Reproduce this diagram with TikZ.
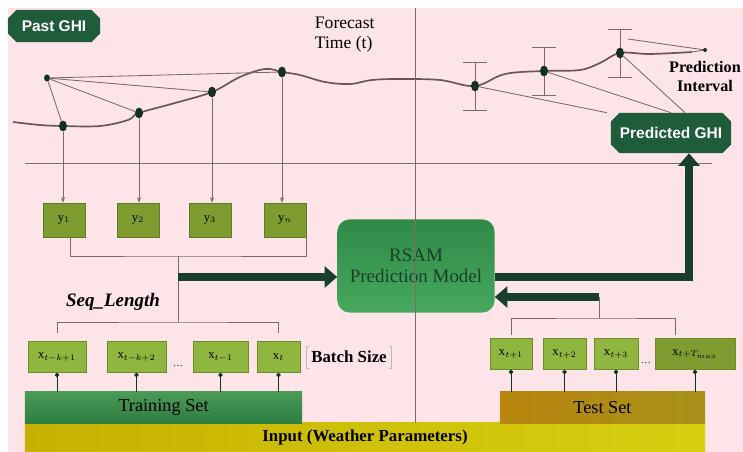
\documentclass[tikz,border=0pt]{standalone}
\usepackage{fontspec}
\setmainfont{Liberation Serif}
\newfontfamily\tagfont{Liberation Sans}
\usepackage{tikz}
\usetikzlibrary{shapes,arrows,arrows.meta,positioning}

\definecolor{bgpink}{HTML}{FCE4E8}
\definecolor{wiregray}{HTML}{7A6A6C}
\definecolor{curvegray}{HTML}{6A5658}
\definecolor{dotgreen}{HTML}{14301F}
\definecolor{ghigreen}{HTML}{1F5C3A}
\definecolor{arrowgreen}{HTML}{173F2B}
\definecolor{yfill}{HTML}{7E9C2F}
\definecolor{yedge}{HTML}{5E7A20}
\definecolor{xfill}{HTML}{8FB63E}
\definecolor{xedge}{HTML}{6C8C28}
\definecolor{modeltop}{HTML}{2F8A48}
\definecolor{modelbot}{HTML}{48A85E}
\definecolor{modeltext}{HTML}{17402A}
\definecolor{traintop}{HTML}{4A9A58}
\definecolor{trainbot}{HTML}{2F7E42}
\definecolor{testleft}{HTML}{B8860E}
\definecolor{testright}{HTML}{A8901A}
\definecolor{inputleft}{HTML}{C8B000}
\definecolor{inputright}{HTML}{D6D010}

\pgfdeclarelayer{dots}
\pgfsetlayers{main,dots}

\begin{document}
\begin{tikzpicture}[x=0.025cm, y=-0.025cm, >={Stealth[length=4pt,width=3pt]}]
      \tikzstyle{wire} = [draw=wiregray, semithick]
      \tikzstyle{curve} = [draw=curvegray, line width=1.2pt]
      \tikzstyle{dot} = [ellipse, fill=dotgreen, inner sep=0pt, minimum width=0.2cm, minimum height=0.27cm]
      \tikzstyle{ghi} = [chamfered rectangle, chamfered rectangle xsep=3pt, chamfered rectangle ysep=3pt, fill=ghigreen, text=white, font=\tagfont\bfseries\fontsize{11}{13}\selectfont]
      \tikzstyle{ybox} = [rectangle, draw=yedge, fill=yfill, minimum width=1.05cm, minimum height=0.85cm, font=\small]
      \tikzstyle{xbox} = [rectangle, draw=xedge, fill=xfill, minimum height=0.78cm, font=\small]
      \tikzstyle{bar} = [rectangle, minimum height=0.775cm, inner sep=0pt, font=\fontsize{13}{15}\selectfont]
      \tikzstyle{bigarrow} = [draw=arrowgreen, line width=5.5pt, -{Triangle[length=9pt,width=15pt]}]
      \tikzstyle{feed} = [wire, draw=dotgreen, -{Circle[length=3pt]}]

      % background
      \fill [bgpink] (8,8) rectangle (743,452);
      \useasboundingbox (0,0) rectangle (743,452);

      % past and forecast GHI curve
      \draw [curve] plot [smooth, tension=0.6] coordinates {(13,122) (40,125) (63,126) (100,126)
        (128,120) (139,113) (175,103) (212,92) (240,77) (265,69) (282,72) (300,75) (325,82)
        (350,84) (372,80) (400,79) (440,80) (475,86) (505,74) (544,71) (580,70) (600,63)
        (620,53) (650,54) (692,52)};
      \coordinate (cend) at (692,52);

      % axes
      \coordinate (divtop) at (415,8);
      \coordinate (hleft) at (25,163);
      \coordinate (hright) at (712,163);
      \draw [wire] (hleft) -- (hright);

      \begin{pgfonlayer}{dots}
        \node (src) [dot, minimum width=0.15cm, minimum height=0.18cm] at (47,78) {};
        \node (p1) [dot] at (63,126) {};
        \node (p2) [dot] at (139,113) {};
        \node (p3) [dot] at (212,92) {};
        \node (p4) [dot] at (282,72) {};
        \node (p5) [dot] at (475,86) {};
        \node (p6) [dot] at (544,71) {};
        \node (p7) [dot] at (620,53) {};
        \node (pint) [dot, minimum width=0.1cm, minimum height=0.1cm] at (705,50) {};
      \end{pgfonlayer}

      \node (pastghi) [ghi, minimum width=2.3cm, minimum height=0.8cm] at (54,26) {Past GHI};
      \node (predghi) [ghi, minimum width=2.95cm, minimum height=1.0cm] at (671,133) {Predicted GHI};
      \node (fctime) [anchor=north west, align=left, font=\fontsize{12.5}{14.5}\selectfont] at (310,12) {Forecast\\Time (t)};
      \node (pitext) [below=0.1cm of pint, align=center, font=\bfseries\fontsize{11.5}{13.5}\selectfont] {Prediction\\Interval};

      % error bars
      \foreach \p in {p5,p6,p7}{
        \draw [wire] ([yshift=0.6cm]\p.center) -- ([yshift=-0.6cm]\p.center);
        \draw [wire] ([xshift=-0.3cm,yshift=0.6cm]\p.center) -- ([xshift=0.3cm,yshift=0.6cm]\p.center);
        \draw [wire] ([xshift=-0.3cm,yshift=-0.6cm]\p.center) -- ([xshift=0.3cm,yshift=-0.6cm]\p.center);
      }
      \foreach \p in {p1,p2,p3,p4}
        \draw [wire] (src) -- (\p);
      \draw [wire] ([xshift=-1.6cm]predghi.north) -- (p5);
      \draw [wire] (predghi.north) -- (p6);
      \draw [wire] ([xshift=0.35cm]predghi.north) -- (p7);
      \draw [wire] ([xshift=0.2cm,yshift=0.35cm]p7.center) -- (pint);
      \draw [wire] (cend) -- (pint);

      % target values
      \node (y1) [ybox] at (64,220) {$\mathrm{y}_1$};
      \node (y2) [ybox] at (138,220) {$\mathrm{y}_2$};
      \node (y3) [ybox] at (210,220) {$\mathrm{y}_3$};
      \node (yn) [ybox] at (285,220) {$\mathrm{y}_n$};
      \draw [wire,->] (p1) -- (p1 |- y1.north);
      \draw [wire,->] (p2) -- (p2 |- y2.north);
      \draw [wire,->] (p3) -- (p3 |- y3.north);
      \draw [wire,->] (p4) -- (p4 |- yn.north);

      % model
      \node (rsam) [rectangle, rounded corners=0.3cm, top color=modeltop, bottom color=modelbot,
        text=modeltext, align=center, minimum width=3.925cm, minimum height=2.325cm,
        font=\fontsize{13.5}{15}\selectfont] at (416,266) {RSAM\\Prediction Model};

      % input bars
      \node (input) [bar, minimum width=17cm, minimum height=0.725cm, left color=inputleft,
        right color=inputright, font=\bfseries\fontsize{12}{14}\selectfont] at (365,437.5) {Input (Weather Parameters)};
      \node (train) [bar, minimum width=6.925cm, top color=traintop, bottom color=trainbot] at (163.5,407.5) {Training Set};
      \node (test) [bar, minimum width=5.125cm, left color=testleft, right color=testright] at (602.5,407.5) {Test Set};
      \draw [wire] (divtop) -- (divtop |- input.north);

      % training window
      \node (xa) [xbox, minimum width=1.45cm] at (57,357) {$\mathrm{x}_{t-k+1}$};
      \node (xb) [xbox, minimum width=1.48cm] at (136.5,357) {$\mathrm{x}_{t-k+2}$};
      \node (xc) [xbox, minimum width=1.38cm] at (220.5,357) {$\mathrm{x}_{t-1}$};
      \node (xd) [xbox, minimum width=1.08cm] at (278.5,357) {$\mathrm{x}_t$};
      \node (xdots) [font=\scriptsize] at (178,366) {\dots};
      \foreach \x in {xa,xb,xc,xd}
        \draw [feed] (\x |- train.north) -- (\x.south);

      % test window
      \node (ta) [xbox, minimum width=1.05cm] at (511,354) {$\mathrm{x}_{t+1}$};
      \node (tb) [xbox, minimum width=1.08cm] at (564.5,354) {$\mathrm{x}_{t+2}$};
      \node (tc) [xbox, minimum width=1.1cm] at (616,354) {$\mathrm{x}_{t+3}$};
      \node (td) [xbox, fill=yfill, minimum width=2.0cm] at (695,354) {$\mathrm{x}_{t+T_{max}}$};
      \node (tdots) [font=\scriptsize] at (646,363) {\dots};
      \foreach \x in {ta,tb,tc,td}
        \draw [feed] (\x |- test.north) -- (\x.south);

      % batch size
      \node (batch) [font=\bfseries\fontsize{12}{14}\selectfont] at (349,357) {Batch Size};
      \draw [draw=gray!55, thin] ([xshift=2pt]batch.north west) -- (batch.north west) -- (batch.south west) -- ++(2pt,0);
      \draw [draw=gray!55, thin] ([xshift=-2pt]batch.north east) -- (batch.north east) -- (batch.south east) -- ++(-2pt,0);

      % sequence brackets
      \coordinate (ymid) at (178,256);
      \coordinate (xmid) at (178,322);
      \coordinate (fwd) at (178,277);
      \draw [wire] ([xshift=0.15cm]y1.south) |- (ymid) -| (yn.south east);
      \draw [wire] (ymid) -- (xmid);
      \draw [wire] ([yshift=0.2cm]xa.north) |- (xmid) -| ([yshift=0.2cm]xd.north);
      \node (seqlen) [font=\bfseries\itshape\fontsize{13.5}{15}\selectfont] at (113,302) {Seq\_Length};

      \coordinate (tfwd) at (599,297);
      \coordinate (tmid) at (599,318);
      \draw [wire] (tfwd) -- (tmid);
      \draw [wire] ([yshift=0.08cm]ta.north) |- (tmid) -| ([xshift=-0.5cm,yshift=0.08cm]td.north);

      % main flow
      \draw [bigarrow] (fwd) -- (fwd -| rsam.west);
      \draw [bigarrow] (tfwd) -- (tfwd -| rsam.east);
      \draw [bigarrow] (rsam.east |- fwd) -| ([xshift=0.45cm]predghi.south);
\end{tikzpicture}
\end{document}
